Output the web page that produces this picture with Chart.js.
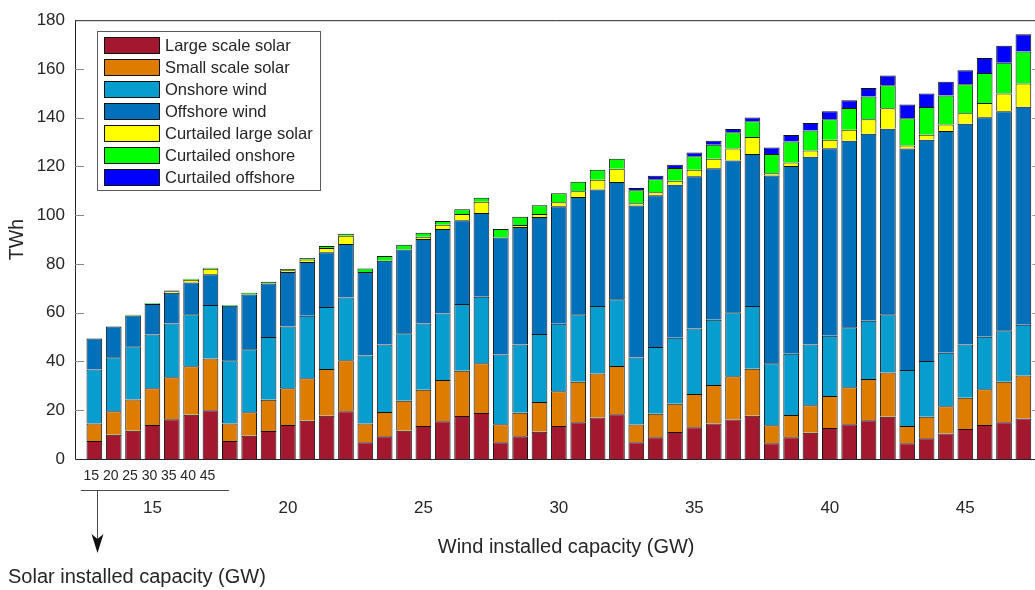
<!DOCTYPE html>
<html>
<head>
<meta charset="utf-8">
<script src="https://cdn.jsdelivr.net/npm/chart.js@4/dist/chart.umd.min.js"></script>
<style>
  html, body { margin: 0; padding: 0; background: #ffffff; }
  #wrap { width: 1035px; height: 590px; }
</style>
</head>
<body>
<div id="wrap"><canvas id="c" width="1035" height="590"></canvas></div>
<script>
// Installed capacities (GW): one group of bars per wind level, one bar per solar level
const windCapacity  = [15, 20, 25, 30, 35, 40, 45];
const solarCapacity = [15, 20, 25, 30, 35, 40, 45];
const yTicks = [0, 20, 40, 60, 80, 100, 120, 140, 160, 180];

// Annual energy (TWh), ordered wind-major, solar-minor
const largeSolar = [
   7.4,  9.9, 11.6, 13.9, 16.3, 18.2, 20.0,
   7.4,  9.5, 11.5, 13.9, 15.7, 17.7, 19.6,
   6.9,  9.3, 11.6, 13.5, 15.5, 17.6, 18.9,
   6.9,  9.3, 11.2, 13.5, 15.1, 17.0, 18.4,
   6.9,  8.9, 11.1, 13.0, 14.6, 16.2, 17.7,
   6.5,  8.9, 10.8, 12.7, 14.3, 15.9, 17.3,
   6.5,  8.5, 10.5, 12.3, 13.9, 15.1, 16.6
];
const smallSolar = [
   7.2,  9.7, 12.8, 15.1, 17.2, 19.8, 21.2,
   7.2,  9.7, 12.8, 15.1, 17.4, 19.2, 20.9,
   7.7, 10.0, 12.3, 14.9, 16.9, 18.6, 20.4,
   7.4,  9.7, 12.2, 14.3, 16.6, 18.1, 19.8,
   7.3,  9.7, 11.6, 13.7, 15.8, 17.7, 19.3,
   7.3,  9.2, 11.2, 13.1, 15.1, 16.9, 18.2,
   7.0,  8.8, 11.1, 12.8, 14.7, 16.6, 17.7
];
const onshoreWind = [
  22.1, 22.1, 21.9, 22.1, 22.1, 21.4, 22.0,
  25.9, 25.8, 25.7, 25.4, 25.7, 25.5, 25.8,
  27.9, 27.7, 27.7, 27.2, 27.3, 27.4, 27.3,
  28.6, 28.0, 27.9, 27.7, 27.7, 27.7, 27.3,
  27.4, 27.3, 27.0, 26.8, 26.7, 26.3, 25.8,
  25.5, 25.1, 25.0, 24.8, 24.6, 23.9, 23.9,
  23.0, 22.9, 22.0, 21.9, 21.5, 21.1, 20.8
];
const offshoreWind = [
  12.7, 12.7, 12.6, 12.5, 12.6, 13.0, 12.6,
  22.4, 22.5, 22.0, 22.3, 22.0, 22.4, 21.9,
  34.2, 34.3, 34.3, 34.6, 34.6, 34.3, 34.3,
  48.0, 48.2, 48.0, 48.2, 48.1, 47.8, 48.1,
  62.4, 62.3, 62.8, 62.5, 62.2, 62.2, 62.3,
  77.0, 77.0, 77.0, 76.9, 76.6, 76.7, 76.1,
  90.9, 90.8, 90.9, 90.5, 90.1, 89.8, 89.4
];
const curtailedLargeSolar = [
   0.0,  0.0,  0.0,  0.0,  0.6,  1.1,  2.2,
   0.0,  0.0,  0.0,  0.7,  1.0,  1.8,  3.4,
   0.0,  0.0,  0.0,  1.0,  1.8,  2.6,  4.6,
   0.0,  0.8,  1.2,  1.6,  2.3,  3.9,  5.5,
   0.9,  1.2,  1.6,  2.7,  3.9,  5.0,  7.0,
   0.9,  1.4,  2.5,  3.5,  4.5,  6.0,  8.4,
   1.2,  2.0,  2.7,  4.3,  5.8,  7.3,  9.5
];
const curtailedOnshore = [
   0.0,  0.0,  0.3,  0.3,  0.3,  0.4,  0.5,
   0.3,  0.7,  0.7,  0.5,  0.7,  0.8,  0.8,
   1.4,  2.0,  2.0,  1.6,  1.5,  2.0,  1.7,
   3.4,  3.4,  3.6,  3.7,  3.9,  4.2,  4.1,
   5.3,  5.4,  5.3,  5.5,  5.7,  6.6,  6.4,
   7.9,  8.6,  8.3,  8.4,  8.9,  9.3,  9.4,
  11.2, 11.4, 11.9, 11.9, 12.3, 12.6, 13.2
];
const curtailedOffshore = [
   0.0,  0.0,  0.0,  0.0,  0.0,  0.0,  0.0,
   0.0,  0.0,  0.0,  0.0,  0.0,  0.0,  0.0,
   0.0,  0.0,  0.0,  0.0,  0.0,  0.0,  0.0,
   0.0,  0.0,  0.0,  0.0,  0.0,  0.0,  0.0,
   1.0,  1.4,  1.3,  1.5,  1.6,  1.4,  1.6,
   2.7,  2.7,  3.0,  3.2,  3.2,  3.5,  4.0,
   5.6,  5.5,  5.7,  5.8,  6.2,  7.0,  7.0
];

const seriesLabels = [
  'Large scale solar', 'Small scale solar', 'Onshore wind', 'Offshore wind',
  'Curtailed large solar', 'Curtailed onshore', 'Curtailed offshore'
];
const seriesColors = ['#a3172f', '#de7c00', '#079dcf', '#0070ba', '#ffff00', '#00ff00', '#0000ff'];
const seriesValues = [largeSolar, smallSolar, onshoreWind, offshoreWind,
                      curtailedLargeSolar, curtailedOnshore, curtailedOffshore];

// Bar slot along the x axis: 1..49, wind groups laid side by side
const nSolar = solarCapacity.length;
const barSlot = windCapacity.flatMap((w, g) => solarCapacity.map((s, k) => g * nSolar + k + 1));

const TEXT = '#262626';
const FONT = '"Liberation Sans", Arial, Helvetica, sans-serif';

const datasets = seriesValues.map((vals, i) => ({
  label: seriesLabels[i],
  data: vals.map((v, j) => ({ x: barSlot[j], y: v })),
  backgroundColor: seriesColors[i],
  borderColor: '#111111',
  borderWidth: 1,
  borderSkipped: 'start',
  categoryPercentage: 1.0,
  barPercentage: 0.81
}));

// Frame, inward ticks, legend and the two-level x labelling
const decorations = {
  id: 'decorations',
  afterDraw(chart) {
    const ctx = chart.ctx;
    const a = chart.chartArea;
    const xs = chart.scales.x;
    const ys = chart.scales.y;
    ctx.save();

    // axes box
    ctx.strokeStyle = TEXT;
    ctx.lineWidth = 1;
    ctx.beginPath();
    ctx.moveTo(a.left + 0.5, a.top + 0.5);
    ctx.lineTo(a.right + 2, a.top + 0.5);
    ctx.moveTo(a.left + 0.5, a.top);
    ctx.lineTo(a.left + 0.5, a.bottom + 0.5);
    ctx.lineTo(a.right + 2, a.bottom + 0.5);
    ctx.stroke();

    // inward y ticks on both sides
    ctx.strokeStyle = '#8a8a8a';
    ctx.beginPath();
    yTicks.forEach(t => {
      if (t === 0 || t === 180) return;
      const y = Math.round(ys.getPixelForValue(t)) + 0.5;
      ctx.moveTo(a.left, y); ctx.lineTo(a.left + 9, y);
      ctx.moveTo(a.right - 2.5, y); ctx.lineTo(a.right, y);
    });
    ctx.stroke();

    // y axis title
    ctx.fillStyle = TEXT;
    ctx.font = '19.5px ' + FONT;
    ctx.textAlign = 'center';
    ctx.textBaseline = 'middle';
    ctx.save();
    ctx.translate(18, (a.top + a.bottom) / 2);
    ctx.rotate(-Math.PI / 2);
    ctx.fillText('TWh', 0, 0);
    ctx.restore();

    // solar sub-labels under the first group
    ctx.font = '14px ' + FONT;
    solarCapacity.forEach((s, k) => {
      ctx.fillText(String(s), xs.getPixelForValue(barSlot[k]) - 3, a.bottom + 17);
    });

    // bracket line and downward arrow
    ctx.strokeStyle = '#4a4a4a';
    ctx.lineWidth = 1;
    const lineY = a.bottom + 31.5;
    const x0 = xs.getPixelForValue(barSlot[0] - 0.7);
    const x1 = xs.getPixelForValue(barSlot[nSolar - 1] + 0.95);
    ctx.beginPath();
    ctx.moveTo(x0, lineY); ctx.lineTo(x1, lineY);
    const ax = Math.round(xs.getPixelForValue(barSlot[0] + 0.15)) + 0.5;
    ctx.moveTo(ax, lineY); ctx.lineTo(ax, a.bottom + 80);
    ctx.stroke();
    ctx.fillStyle = '#111111';
    ctx.beginPath();
    ctx.moveTo(ax, a.bottom + 94);
    ctx.lineTo(ax - 6, a.bottom + 75);
    ctx.lineTo(ax, a.bottom + 80);
    ctx.lineTo(ax + 6, a.bottom + 75);
    ctx.closePath();
    ctx.fill();

    // wind group labels
    ctx.fillStyle = TEXT;
    ctx.font = '17px ' + FONT;
    ctx.textAlign = 'center';
    windCapacity.forEach((w, g) => {
      const mid = barSlot[g * nSolar + Math.floor(nSolar / 2)];
      ctx.fillText(String(w), xs.getPixelForValue(mid), a.bottom + 49);
    });

    // axis titles
    ctx.font = '20px ' + FONT;
    ctx.fillText('Wind installed capacity (GW)', chart.width * 0.547, a.bottom + 88);
    ctx.textAlign = 'left';
    ctx.fillText('Solar installed capacity (GW)', 8, a.bottom + 118);

    // legend
    const lx = 97.5, ly = 31.5, lw = 223, lh = 159, rowH = 22;
    ctx.fillStyle = '#ffffff';
    ctx.fillRect(lx, ly, lw, lh);
    ctx.strokeStyle = '#5a5a5a';
    ctx.strokeRect(lx, ly, lw, lh);
    ctx.font = '16.5px ' + FONT;
    ctx.textBaseline = 'middle';
    chart.data.datasets.forEach((ds, i) => {
      const sy = ly + 6 + i * rowH;
      ctx.fillStyle = ds.backgroundColor;
      ctx.fillRect(lx + 7, sy, 55, 16);
      ctx.strokeStyle = '#111111';
      ctx.strokeRect(lx + 7, sy, 55, 16);
      ctx.fillStyle = TEXT;
      ctx.fillText(ds.label, lx + 67.5, sy + 8.5);
    });

    ctx.restore();
  }
};

new Chart(document.getElementById('c'), {
  type: 'bar',
  data: { datasets },
  options: {
    responsive: false,
    animation: false,
    devicePixelRatio: 1,
    layout: { padding: { top: 15, right: 0, bottom: 131, left: 0 } },
    plugins: { legend: { display: false }, tooltip: { enabled: false } },
    scales: {
      x: {
        type: 'linear',
        min: 0,
        max: 49.6,
        offset: false,
        stacked: true,
        display: false
      },
      y: {
        stacked: true,
        min: 0,
        max: 180,
        afterBuildTicks: s => { s.ticks = yTicks.map(v => ({ value: v })); },
        afterFit: s => { s.width = 75; },
        grid: { display: false, drawTicks: false },
        border: { display: false },
        ticks: { color: TEXT, padding: 10, font: { size: 17, family: FONT } }
      }
    }
  },
  plugins: [decorations]
});
</script>
</body>
</html>
